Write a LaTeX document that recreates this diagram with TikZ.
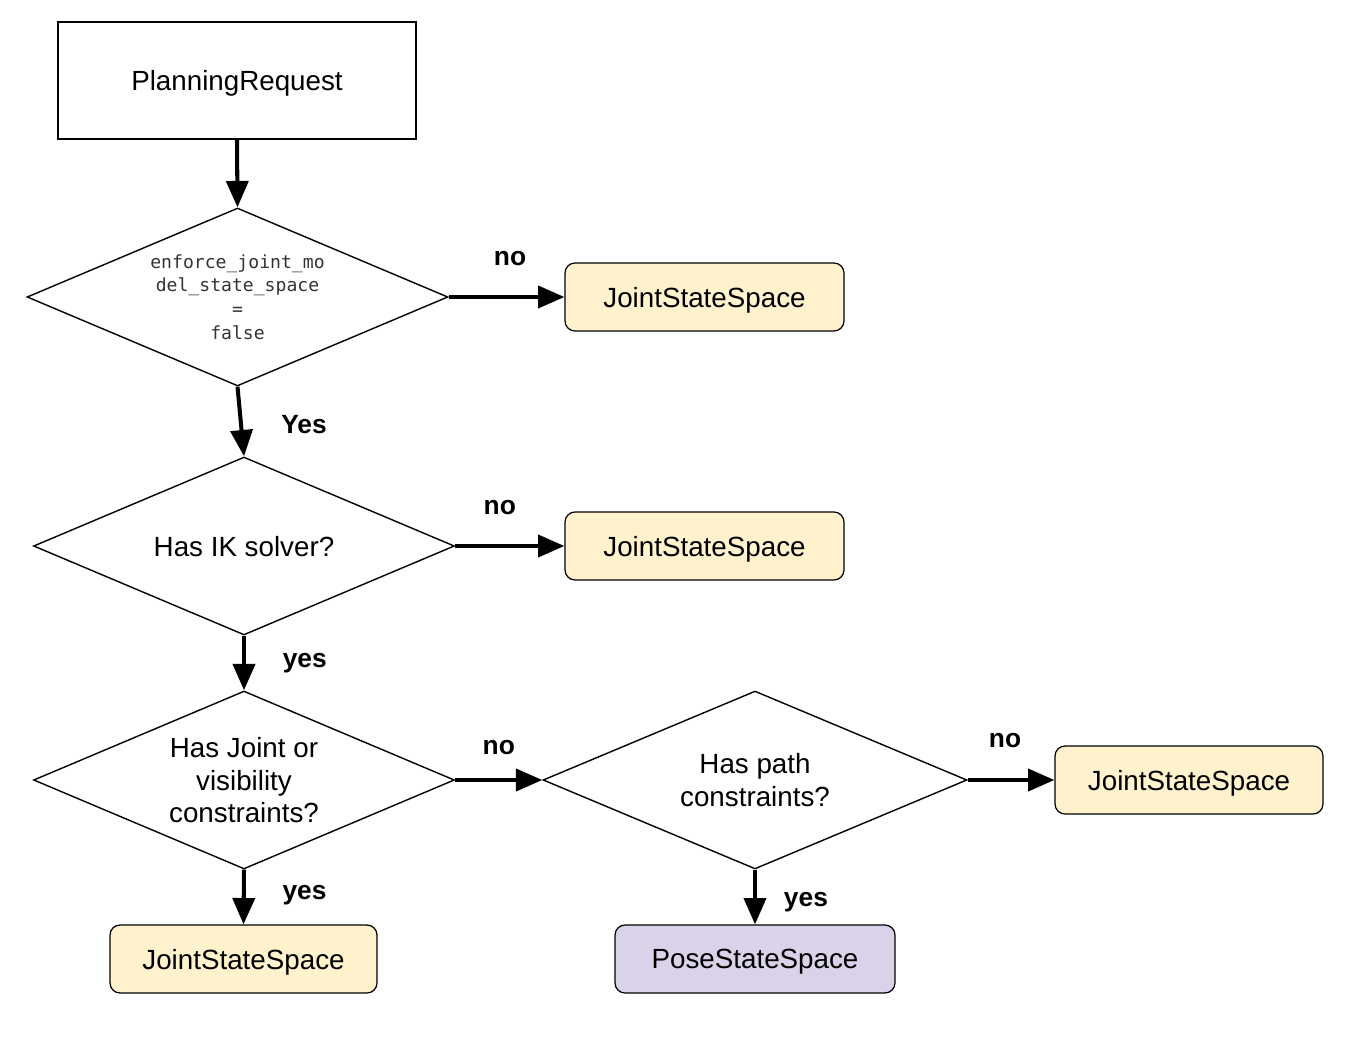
\documentclass[tikz,border=0pt]{standalone}
\usepackage{fontspec}
\setmainfont{Liberation Sans}
\setmonofont{DejaVu Sans Mono}
\usetikzlibrary{shapes.geometric,arrows.meta}
\definecolor{jointfill}{HTML}{FFF2CC}
\definecolor{posefill}{HTML}{D9D2E9}
\definecolor{codegray}{HTML}{333333}

\begin{document}
\begin{tikzpicture}[x=0.02cm, y=-0.02cm]
\tikzstyle{main}=[draw=black, line width=0.8pt, font=\fontsize{15.8}{18.7}\selectfont, align=center, inner sep=0pt, text depth=0pt]
\tikzstyle{rect}=[main, rectangle, line width=0.7pt]
\tikzstyle{decision}=[main, diamond, aspect=2.37, minimum width=8.42cm, minimum height=3.56cm]
\tikzstyle{space}=[rect, rounded corners=2mm, minimum height=1.36cm]
\tikzstyle{joint}=[space, fill=jointfill]
\tikzstyle{pose}=[space, fill=posefill]
\tikzstyle{connect}=[-{Triangle[length=15pt, width=12.5pt]}, line width=2.3pt]
\tikzstyle{lbl}=[font=\bfseries\fontsize{15}{18}\selectfont]

  \useasboundingbox (0,0) rectangle (1364,1047);

  \node[rect, minimum width=7.16cm, minimum height=2.34cm] (request) at (237,80.5) {PlanningRequest};
  \node[decision, font=\ttfamily\fontsize{10.3}{13.6}\selectfont, text=codegray] (enforce) at (237.5,297)
    {enforce\_joint\_mo\\del\_state\_space\\=\\false};
  \node[joint, minimum width=5.58cm] (jointA) at (704.5,297) {JointStateSpace};

  \node[decision] (ik)      at (244,546)   {Has IK solver?};
  \node[joint, minimum width=5.58cm] (jointB) at (704.5,546) {JointStateSpace};

  \node[decision] (visible) at (244,780) {Has Joint or\\visibility\\constraints?};
  \node[decision, minimum width=8.48cm] (pathc) at (755,780) {Has path\\constraints?};
  \node[joint, minimum width=5.36cm] (jointC) at (1189,780) {JointStateSpace};

  \node[joint, minimum width=5.34cm] (jointD) at (243.5,959) {JointStateSpace};
  \node[pose, minimum width=5.6cm]   (pose)   at (755,959)   {PoseStateSpace};

  % yes branches
  \path (request.south) edge [connect] (enforce.north);
  \path (enforce.south) edge [connect] node [lbl, midway, xshift=36pt, yshift=-2pt] {Yes} (ik.north);
  \path (ik.south)      edge [connect] node [lbl, midway, xshift=34.6pt] {yes} (visible.north);
  \path (visible.south) edge [connect] node [lbl, midway, xshift=34.6pt, yshift=1pt] {yes} (jointD.north);
  \path (pathc.south)   edge [connect] node [lbl, midway, xshift=29pt, yshift=-3pt] {yes} (pose.north);

  % no branches
  \path (enforce.east) edge [connect] node [lbl, midway, xshift=2pt, yshift=22pt] {no} (jointA.west);
  \path (ik.east)      edge [connect] node [lbl, midway, xshift=-5.7pt, yshift=22pt] {no} (jointB.west);
  \path (visible.east) edge [connect] node [lbl, midway, yshift=18.7pt] {no} (pathc.west);
  \path (pathc.east)   edge [connect] node [lbl, midway, xshift=-3.4pt, yshift=22.7pt] {no} (jointC.west);

\end{tikzpicture}
\end{document}
